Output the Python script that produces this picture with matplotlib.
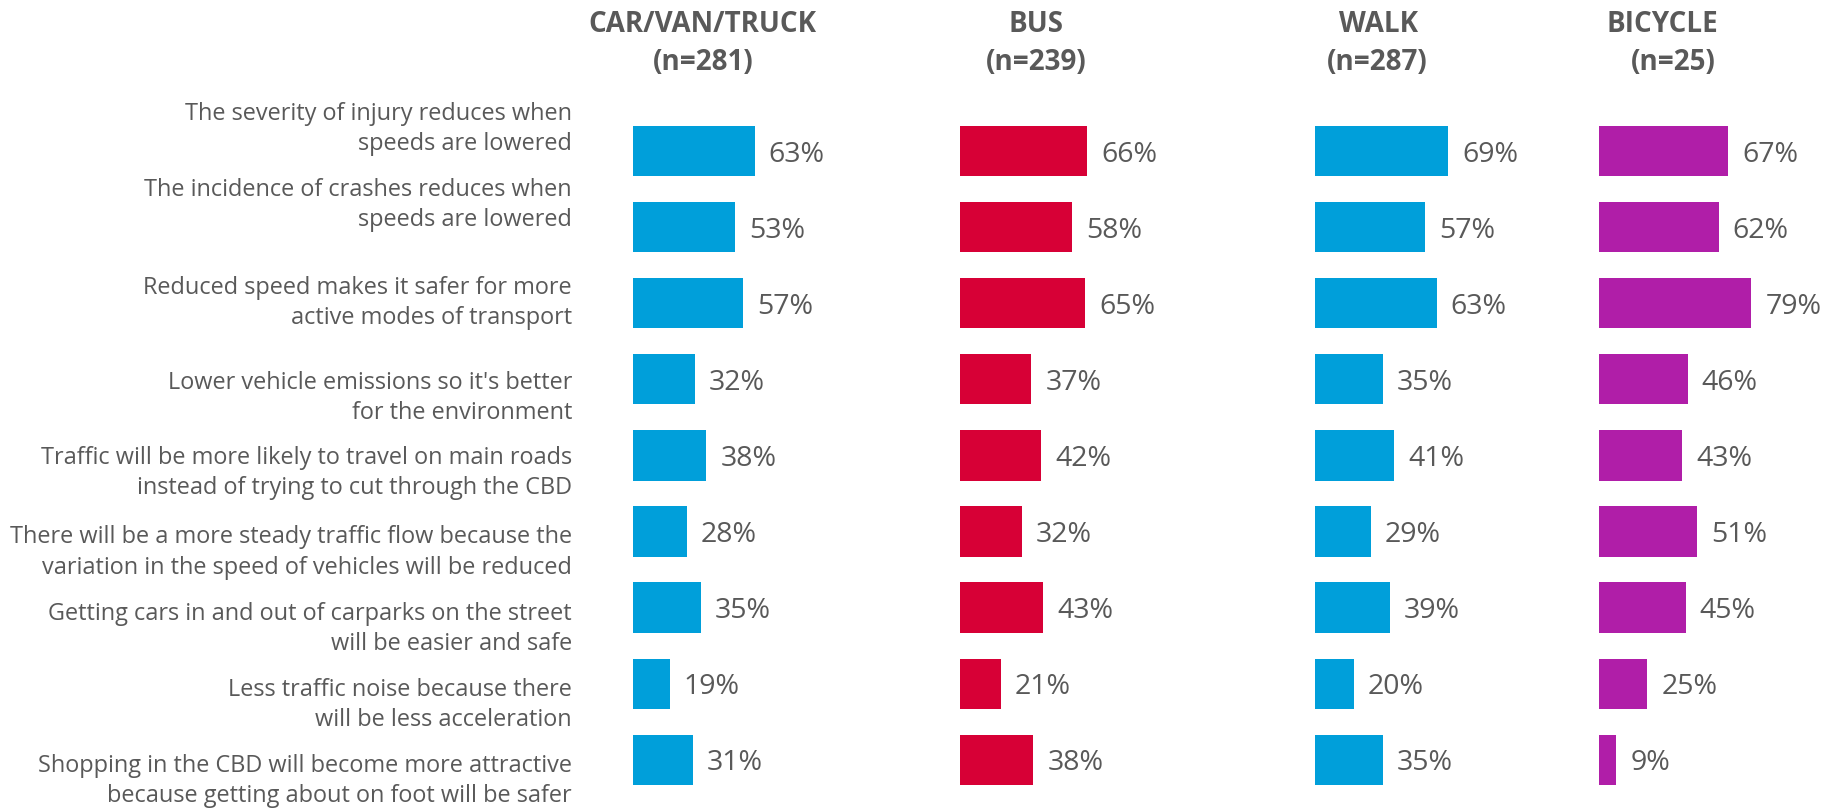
import matplotlib.pyplot as plt

plt.rcParams['font.family'] = ['Open Sans', 'DejaVu Sans']

# Datos
statements = [
    'The severity of injury reduces when\nspeeds are lowered',
    'The incidence of crashes reduces when\nspeeds are lowered',
    'Reduced speed makes it safer for more\nactive modes of transport',
    "Lower vehicle emissions so it's better\nfor the environment",
    'Traffic will be more likely to travel on main roads\ninstead of trying to cut through the CBD',
    'There will be a more steady traffic flow because the\nvariation in the speed of vehicles will be reduced',
    'Getting cars in and out of carparks on the street\nwill be easier and safe',
    'Less traffic noise because there\nwill be less acceleration',
    'Shopping in the CBD will become more attractive\nbecause getting about on foot will be safer',
]
modes = ['CAR/VAN/TRUCK', 'BUS', 'WALK', 'BICYCLE']
sample_sizes = [281, 239, 287, 25]
car = [63, 53, 57, 32, 38, 28, 35, 19, 31]
bus = [66, 58, 65, 37, 42, 32, 43, 21, 38]
walk = [69, 57, 63, 35, 41, 29, 39, 20, 35]
bicycle = [67, 62, 79, 46, 43, 51, 45, 25, 9]
series = [car, bus, walk, bicycle]

colours = ['#009FDA', '#D70036', '#009FDA', '#B01EA8']
grey = '#595959'

# Disposicion en pixeles
W, H = 1829, 811
px_per_pct = 1.93
bar_left = [633, 960, 1315, 1599]
head_x = [702, 1036, 1379, 1662]
n_x = [703, 1036, 1377, 1673]
row0, row_step = 151, 76.1
ax_w = 170
label_shift = [-22, -22, 0, 19, 18, 21, 21, 21, 21]

fig = plt.figure(figsize=(W / 100, H / 100), dpi=100)

top = row0 - row_step / 2
bottom = row0 + 8.5 * row_step
n = len(statements)

for k, vals in enumerate(series):
    ax = fig.add_axes([bar_left[k] / W, 1 - bottom / H, ax_w / W, (bottom - top) / H])
    ax.barh(range(n), vals, height=0.66, color=colours[k])
    ax.set_xlim(0, ax_w / px_per_pct)
    ax.set_ylim(n - 0.5, -0.5)
    ax.axis('off')
    for i, v in enumerate(vals):
        ax.annotate(f'{v}%', (v, i), xytext=(10, 0), textcoords='offset points',
                    va='center_baseline', ha='left', fontsize=20.5, color=grey,
                    annotation_clip=False)
    # Encabezados
    fig.text(head_x[k] / W, 1 - 24 / H, modes[k], ha='center', va='center',
             fontsize=20, fontweight='bold', color=grey)
    fig.text(n_x[k] / W, 1 - 62 / H, '(n=%d)' % sample_sizes[k], ha='center',
             va='center', fontsize=20, fontweight='bold', color=grey)

for i, s in enumerate(statements):
    y = row0 + i * row_step + label_shift[i]
    fig.text(572 / W, 1 - y / H, s, ha='right', va='center',
             multialignment='right', fontsize=16.9, color=grey, linespacing=1.34)

fig.savefig('out.png', dpi=100)
